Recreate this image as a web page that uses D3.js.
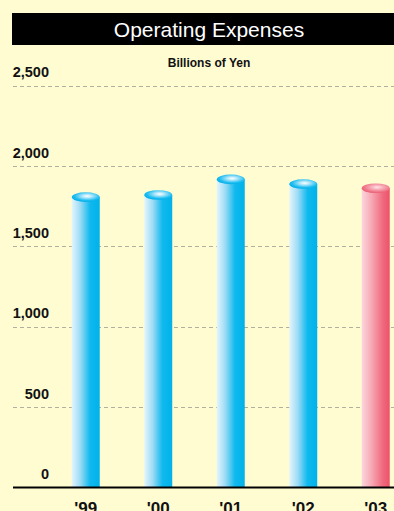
<!DOCTYPE html>
<html>
<head>
<meta charset="utf-8">
<script src="https://cdn.jsdelivr.net/npm/d3@7/dist/d3.min.js"></script>
<style>
  html, body { margin: 0; padding: 0; background: #fffcd2; overflow: hidden; }
  svg { display: block; }
</style>
</head>
<body>
<svg id="chart" width="394" height="511"></svg>
<script>
// Operating expenses by fiscal year, billions of yen
const years = ["'99", "'00", "'01", "'02", "'03"];
const expenses = [1807, 1820, 1917, 1888, 1862];
const highlight = [false, false, false, false, true];
const yTicks = [0, 500, 1000, 1500, 2000, 2500];
const tickLabels = ["0", "500", "1,000", "1,500", "2,000", "2,500"];

const W = 394, H = 511;
const svg = d3.select("#chart");
const font = "'Liberation Sans', Arial, Helvetica, sans-serif";

svg.append("rect").attr("width", W).attr("height", H).attr("fill", "#fffcd2");

// Title bar
svg.append("rect").attr("x", 12).attr("y", 13).attr("width", W - 12).attr("height", 32).attr("fill", "#000");
svg.append("text").attr("x", 209).attr("y", 37).attr("text-anchor", "middle")
  .attr("font-family", font).attr("font-size", 21).attr("fill", "#fff")
  .text("Operating Expenses");

svg.append("text").attr("x", 209).attr("y", 67).attr("text-anchor", "middle")
  .attr("font-family", font).attr("font-size", 12).attr("font-weight", "bold").attr("fill", "#111")
  .text("Billions of Yen");

const y = d3.scaleLinear().domain([0, 2500]).range([487.5, 85.7]);
const x = d3.scaleBand().domain(years).range([49.5, 412]).paddingInner(0.614).paddingOuter(0.307);

// Gradients
const defs = svg.append("defs");
function bodyGrad(id, stops) {
  const g = defs.append("linearGradient").attr("id", id).attr("x1", "0").attr("x2", "1").attr("y1", "0").attr("y2", "0");
  stops.forEach(([o, c]) => g.append("stop").attr("offset", o).attr("stop-color", c));
}
function capGrad(id, stops) {
  const g = defs.append("radialGradient").attr("id", id).attr("cx", "0.55").attr("cy", "0.4").attr("r", "0.6");
  stops.forEach(([o, c]) => g.append("stop").attr("offset", o).attr("stop-color", c));
}
bodyGrad("blueBody", [[0, "#e4f5fc"], [0.3, "#9edcf5"], [0.65, "#10b9ee"], [1, "#00b2ea"]]);
bodyGrad("pinkBody", [[0, "#fcd6dd"], [0.35, "#f7a8b4"], [0.75, "#f0697e"], [1, "#ec5368"]]);
capGrad("blueCap", [[0, "#ffffff"], [0.3, "#aee6fa"], [0.75, "#1cbdf0"], [1, "#00aee8"]]);
capGrad("pinkCap", [[0, "#fde6ea"], [0.3, "#f9b6c0"], [0.75, "#f07a8c"], [1, "#ea5a6f"]]);

// Gridlines
const grid = svg.append("g");
yTicks.filter(t => t > 0).forEach(t => {
  grid.append("line").attr("x1", 13).attr("x2", W).attr("y1", Math.round(y(t)) + 0.5).attr("y2", Math.round(y(t)) + 0.5)
    .attr("stroke", "#b0b0a0").attr("stroke-width", 1).attr("stroke-dasharray", "4,3");
});

// Y tick labels
yTicks.forEach((t, i) => {
  svg.append("text").attr("x", 49).attr("y", y(t) - 8.5).attr("text-anchor", "end")
    .attr("font-family", font).attr("font-size", 14.5).attr("font-weight", "bold").attr("fill", "#111")
    .text(tickLabels[i]);
});

// Cylinder bars
const ry = 4.8;
const bars = svg.append("g");
years.forEach((yr, i) => {
  const bx = x(yr), bw = x.bandwidth();
  const top = y(expenses[i]);
  const pink = highlight[i];
  bars.append("rect").attr("x", bx).attr("y", top).attr("width", bw).attr("height", y(0) - top)
    .attr("fill", pink ? "url(#pinkBody)" : "url(#blueBody)");
  bars.append("ellipse").attr("cx", bx + bw / 2).attr("cy", top).attr("rx", bw / 2).attr("ry", ry)
    .attr("fill", pink ? "url(#pinkCap)" : "url(#blueCap)");
});

// Baseline
svg.append("line").attr("x1", 13).attr("x2", W).attr("y1", 487.5).attr("y2", 487.5)
  .attr("stroke", "#000").attr("stroke-width", 2);

// X labels
years.forEach(yr => {
  svg.append("text").attr("x", x(yr) + x.bandwidth() / 2).attr("y", 513.5).attr("text-anchor", "middle")
    .attr("font-family", font).attr("font-size", 17).attr("font-weight", "bold").attr("fill", "#111")
    .text(yr);
});
</script>
</body>
</html>
